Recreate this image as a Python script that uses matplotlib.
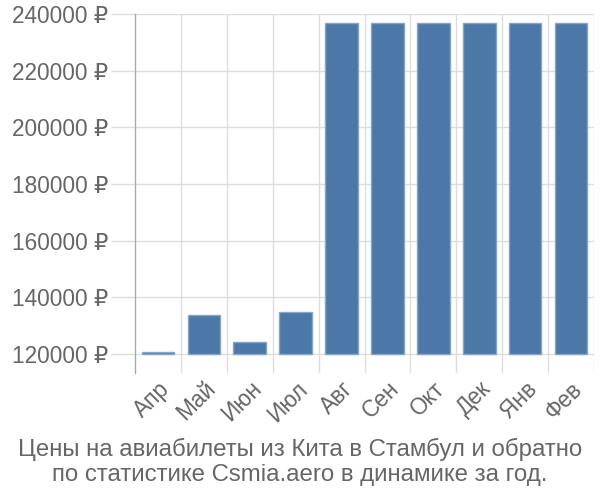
import matplotlib
matplotlib.use("Agg")
import matplotlib.pyplot as plt
import numpy as np

months = ["Апр", "Май", "Июн", "Июл", "Авг", "Сен", "Окт", "Дек", "Янв", "Фев"]
prices = [120800, 133700, 124300, 134800, 236700, 236700, 236700, 236700, 236700, 236700]
yticks = [120000, 140000, 160000, 180000, 200000, 220000, 240000]
title = "Цены на авиабилеты из Кита в Стамбул и обратно\nпо статистике Csmia.aero в динамике за год."

plt.rcParams['font.family'] = ['Liberation Sans', 'DejaVu Sans']

fig = plt.figure(figsize=(6, 5), dpi=100)
ax = fig.add_axes([0.225, 0.254, 0.765, 0.718])

x = np.arange(len(months))
base = 120000
ax.bar(x, [p - base for p in prices], bottom=base, width=0.71,
       color='#4c78a8', edgecolor='#86a5c9', linewidth=1, zorder=3)

ax.set_xlim(-0.5, len(months) - 0.5)
ax.set_ylim(113300, 240000)

ax.set_yticks(yticks)
ax.set_yticklabels([f"{v} ₽" for v in yticks], fontsize=16.3, color='#666666')
ax.set_xticks(x)
ax.set_xticklabels(months, rotation=45, ha='right', rotation_mode='anchor',
                   fontsize=16.3, color='#666666')
ax.set_xticks(np.arange(0.5, len(months), 1.0), minor=True)

ax.tick_params(axis='y', length=17, color='#dddddd', width=1, pad=2)
ax.tick_params(axis='x', which='major', length=0, pad=3)
ax.tick_params(axis='x', which='minor', length=0)

ax.grid(axis='y', which='major', color='#dddddd', linewidth=1, zorder=0)
ax.grid(axis='x', which='minor', color='#dddddd', linewidth=1, zorder=0)

for s in ['top', 'right', 'bottom']:
    ax.spines[s].set_visible(False)
ax.spines['left'].set_color('#aaaaaa')
ax.spines['left'].set_linewidth(1)

fig.text(0.5, 0.076, title, ha='center', va='center', fontsize=17.3,
         color='#666666', linespacing=1.2)

fig.savefig("out.png", dpi=100)
